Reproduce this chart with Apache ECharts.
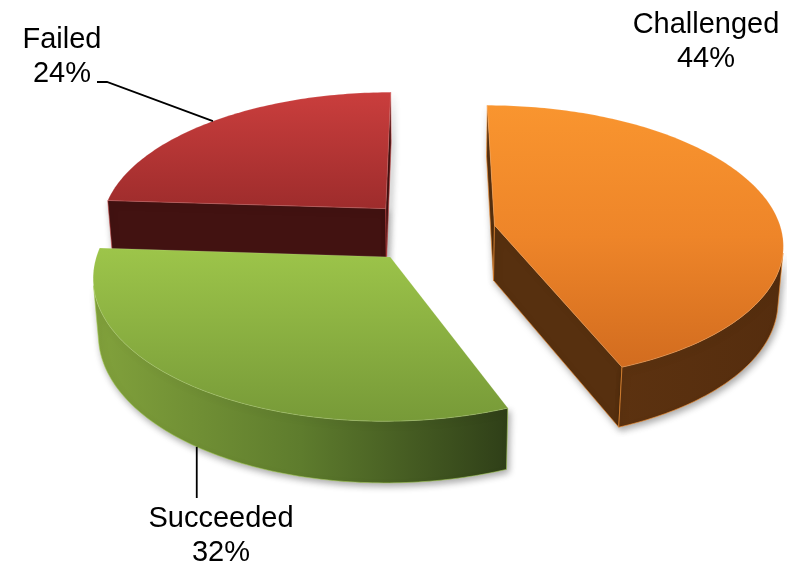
<!DOCTYPE html>
<html><head><meta charset="utf-8">
<script src="https://cdn.jsdelivr.net/npm/echarts@6/dist/echarts.min.js"></script>
<style>html,body{margin:0;padding:0;background:#fff}#c{width:787px;height:565px}</style>
</head><body><div id="c"></div>
<script>
// ---- data ----
const categories = ['Challenged', 'Succeeded', 'Failed'];
const values = [44, 32, 24];

// ---- layout of the 3D pie (perspective projection) ----
const CX = 430, CY = 231, R = 287, H = 64, EXPLODE = 66;
const SIN_A = 0.475, COS_A = Math.sqrt(1 - SIN_A * SIN_A), DIST = 2000;
const CAM = [0, DIST * SIN_A, DIST * COS_A];
const FONT = '29px "Liberation Sans", Arial, sans-serif';

function project(p) {
  const d = p[2] * COS_A + p[1] * SIN_A;
  const ry = p[2] * SIN_A - p[1] * COS_A;
  const s = DIST / (DIST - d);
  return [CX + p[0] * s, CY + ry * s];
}
function facing(n, p) {
  return n[0] * (CAM[0] - p[0]) + n[1] * (CAM[1] - p[1]) + n[2] * (CAM[2] - p[2]) > 0;
}
const G = echarts.graphic;
const styles = {
  Challenged: {
    top: new G.LinearGradient(0, 0, 0, 1, [{offset: 0, color: '#F9952F'}, {offset: 0.5, color: '#EE8529'}, {offset: 1, color: '#D26C1F'}]),
    side: new G.LinearGradient(0, 0, 1, 0, [{offset: 0, color: '#5C3210'}, {offset: 1, color: '#552D0E'}]),
    radial: '#57300F', stroke: 'rgba(245,145,50,0.9)'
  },
  Succeeded: {
    top: new G.LinearGradient(0, 0, 0, 1, [{offset: 0, color: '#9DC54A'}, {offset: 1, color: '#779A38'}]),
    side: new G.LinearGradient(0, 0, 1, 0, [{offset: 0, color: '#82A23C'}, {offset: 0.5, color: '#5E7C2D'}, {offset: 1, color: '#2F3F18'}]),
    radial: '#4A6121', stroke: 'rgba(165,205,85,0.8)'
  },
  Failed: {
    top: new G.LinearGradient(0, 0, 0, 1, [{offset: 0, color: '#CA3E3D'}, {offset: 1, color: '#9E2C2C'}]),
    side: '#401211', radial: '#421211', stroke: 'rgba(200,65,65,0.8)'
  }
};
// label placement (layout only)
const labelLayout = {
  Challenged: {x: 706, y: 8, anchor: null, line: null},
  Failed: {x: 62, y: 23, anchor: 'top', line: [[107, 82], [97, 82]]},
  Succeeded: {x: 221, y: 502, anchor: 'bottom', line: [[null, 498]]}
};

const total = values.reduce((a, b) => a + b, 0);
function geom(i) {
  let before = 0;
  for (let k = 0; k < i; k++) before += values[k];
  const a0 = before / total * 2 * Math.PI;
  const a1 = (before + values[i]) / total * 2 * Math.PI;
  const am = (a0 + a1) / 2;
  return {a0, a1, am, ox: EXPLODE * Math.sin(am), oz: -EXPLODE * Math.cos(am)};
}
// draw order: far slices first
const depthOrder = categories.map((c, i) => i).sort((a, b) => geom(a).oz - geom(b).oz);

function renderItem(params, api) {
  const i = params.dataIndex;
  const v = api.value(0);
  const g = geom(i);
  const name = categories[i];
  const st = styles[name];
  const rank = depthOrder.indexOf(i);
  const P = (t, y) => [g.ox + R * Math.sin(t), y, g.oz - R * Math.cos(t)];
  const Otop = [g.ox, 0, g.oz], Obot = [g.ox, -H, g.oz];
  const children = [];
  const shadow = {shadowBlur: 7, shadowColor: 'rgba(0,0,0,0.35)', shadowOffsetX: 2, shadowOffsetY: 3};

  // radial faces
  const faces = [
    {t: g.a0, n: [-Math.cos(g.a0), 0, -Math.sin(g.a0)]},
    {t: g.a1, n: [Math.cos(g.a1), 0, Math.sin(g.a1)]}
  ];
  faces.forEach(f => {
    if (facing(f.n, P(f.t, 0))) {
      children.push({
        type: 'polygon', z2: rank * 10 + 1,
        shape: {points: [Otop, P(f.t, 0), P(f.t, -H), Obot].map(project)},
        style: Object.assign({fill: st.radial, stroke: st.stroke, lineWidth: 0.7, lineJoin: 'round'}, shadow)
      });
    }
  });

  // outer curved side
  const N = Math.max(12, Math.ceil((g.a1 - g.a0) / (Math.PI / 180)));
  const ts = [];
  for (let k = 0; k <= N; k++) ts.push(g.a0 + (g.a1 - g.a0) * k / N);
  let run = null;
  const runs = [];
  for (let k = 0; k < N; k++) {
    const tm = (ts[k] + ts[k + 1]) / 2;
    const vis = facing([Math.sin(tm), 0, -Math.cos(tm)], P(tm, 0));
    if (vis) { if (!run) { run = [k, k + 1]; runs.push(run); } else run[1] = k + 1; }
    else run = null;
  }
  runs.forEach(r => {
    const pts = [];
    for (let k = r[0]; k <= r[1]; k++) pts.push(project(P(ts[k], 0)));
    for (let k = r[1]; k >= r[0]; k--) pts.push(project(P(ts[k], -H)));
    children.push({
      type: 'polygon', z2: rank * 10 + 2,
      shape: {points: pts},
      style: Object.assign({fill: st.side, stroke: st.stroke, lineWidth: 0.7, lineJoin: 'round'}, shadow)
    });
  });

  // top face
  const topPts = [project(Otop)].concat(ts.map(t => project(P(t, 0))));
  children.push({
    type: 'polygon', z2: rank * 10 + 5,
    shape: {points: topPts},
    style: {fill: st.top, stroke: 'rgba(255,255,255,0.25)', lineWidth: 0.5, lineJoin: 'round'}
  });

  // label + leader line
  const L = labelLayout[name];
  const pct = Math.round(v / total * 100) + '%';
  children.push({
    type: 'text', z2: 100, x: L.x, y: L.y,
    style: {text: name + '\n' + pct, font: FONT, fill: '#000', align: 'center', verticalAlign: 'top', lineHeight: 34}
  });
  if (L.anchor) {
    const a = project(P(g.am, L.anchor === 'top' ? 0 : -H));
    const pts = [a].concat(L.line.map(p => [p[0] === null ? a[0] : p[0], p[1]]));
    children.push({
      type: 'polyline', z2: 99,
      shape: {points: pts},
      style: {stroke: '#000', lineWidth: 1.8, fill: null}
    });
  }
  return {type: 'group', children};
}

const chart = echarts.init(document.getElementById('c'), null, {renderer: 'canvas'});
chart.setOption({
  animation: false,
  backgroundColor: '#ffffff',
  series: [{
    type: 'custom',
    coordinateSystem: 'none',
    renderItem: renderItem,
    data: values.map((v, i) => ({name: categories[i], value: [v]}))
  }]
});
</script>
</body></html>
